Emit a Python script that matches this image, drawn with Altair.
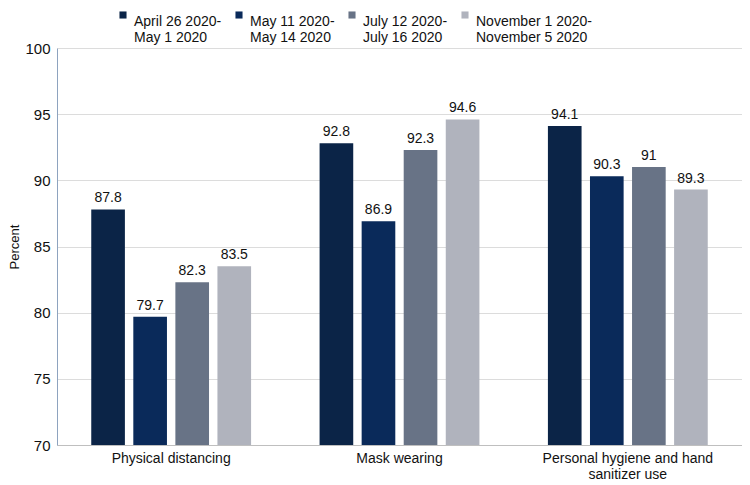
import altair as alt
import pandas as pd

categories = ["Physical distancing", "Mask wearing", "Personal hygiene and hand|sanitizer use"]
periods = ["April 26 2020-|May 1 2020", "May 11 2020-|May 14 2020",
           "July 12 2020-|July 16 2020", "November 1 2020-|November 5 2020"]
values = {
    "Physical distancing": [87.8, 79.7, 82.3, 83.5],
    "Mask wearing": [92.8, 86.9, 92.3, 94.6],
    "Personal hygiene and hand|sanitizer use": [94.1, 90.3, 91, 89.3],
}
colors = ["#0b2447", "#0a2a5a", "#687386", "#b0b3bd"]

rows = []
for c in categories:
    for p, v in zip(periods, values[c]):
        rows.append({"category": c, "period": p, "value": v})
df = pd.DataFrame(rows)

FONT = "Liberation Sans"

x = alt.X("category:N", sort=categories, title=None,
          scale=alt.Scale(paddingInner=0.3, paddingOuter=0.15),
          axis=alt.Axis(labelExpr="split(datum.label, '|')", labelAngle=0, labelFontSize=14,
                        labelColor="#111111", ticks=False, domainColor="#bfbfbf",
                        labelPadding=6, labelFont=FONT, labelLineHeight=16))
xo = alt.XOffset("period:N", sort=periods, scale=alt.Scale(paddingInner=0.2, paddingOuter=0))
y = alt.Y("value:Q", title="Percent",
          scale=alt.Scale(domain=[70, 100], zero=False, nice=False),
          axis=alt.Axis(values=[70, 75, 80, 85, 90, 95, 100], labelFontSize=15, labelColor="#111111",
                        titleFontSize=13, titleFontWeight="normal", titleColor="#111111",
                        ticks=False, domainColor="#8ea3bf", gridColor="#dcdcdc",
                        labelPadding=7, titlePadding=3, labelFont=FONT, titleFont=FONT))

base = alt.Chart(df).encode(x=x, xOffset=xo, y=y)

bars = base.mark_bar(clip=True).encode(
    color=alt.Color("period:N", sort=periods, scale=alt.Scale(domain=periods, range=colors),
                    legend=alt.Legend(title=None, orient="none", direction="horizontal",
                                      legendX=59, legendY=-40,
                                      labelExpr="split(datum.label, '|')",
                                      symbolType="square", symbolSize=50, symbolStrokeWidth=0,
                                      labelFontSize=14, labelColor="#111111", labelFont=FONT,
                                      columnPadding=10, labelLimit=200, labelBaseline="top",
                                      labelOffset=4))
)

labels = base.mark_text(dy=-4, baseline="bottom", fontSize=14, font=FONT, color="#111111").encode(
    text=alt.Text("value:Q")
)

chart = (bars + labels).properties(width=685, height=397, padding={"left": 0, "top": 0, "right": 0, "bottom": 0}).configure_view(
    stroke=None
).configure_axis(grid=True).configure_axisX(grid=False)

chart.save("out.html", embed_options={"renderer": "svg", "actions": False})
